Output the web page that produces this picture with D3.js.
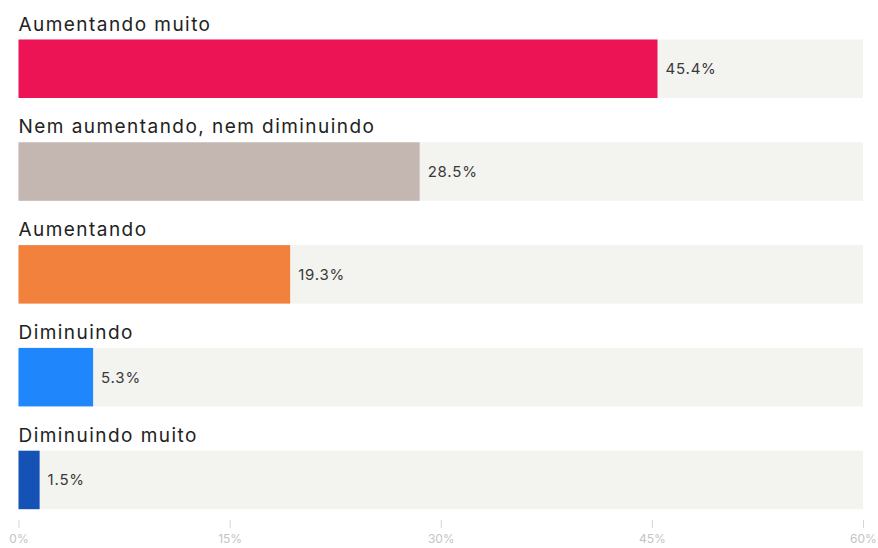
<!DOCTYPE html>
<html>
<head>
<meta charset="utf-8">
<script src="https://cdn.jsdelivr.net/npm/d3@7"></script>
<style>
  html, body { margin: 0; padding: 0; background: #fff; }
  svg { display: block; }
</style>
</head>
<body>
<svg id="chart" width="878" height="548"></svg>
<script>
// Answer categories, their shares (%) and bar colours
const categories = [
  "Aumentando muito",
  "Nem aumentando, nem diminuindo",
  "Aumentando",
  "Diminuindo",
  "Diminuindo muito"
];
const values = [45.4, 28.5, 19.3, 5.3, 1.5];
const colors = ["#EC1455", "#C4B6B0", "#F2813D", "#1F86FB", "#1452B5"];
const tickValues = [0, 15, 30, 45, 60];

const svg = d3.select("#chart");

const x = d3.scaleLinear().domain([0, 60]).range([18.5, 863]);
const y = d3.scaleBand()
  .domain(categories)
  .range([39.5, 509.2])
  .paddingInner(0.431)
  .paddingOuter(0);

const font = "Inter, 'Noto Sans', sans-serif";

const rows = svg.append("g").selectAll("g")
  .data(categories.map((c, i) => ({ c, v: values[i], col: colors[i] })))
  .join("g");

// background track
rows.append("rect")
  .attr("x", x(0))
  .attr("y", d => y(d.c))
  .attr("width", x(60) - x(0))
  .attr("height", y.bandwidth())
  .attr("fill", "#F3F3F0");

// value bar
rows.append("rect")
  .attr("x", x(0))
  .attr("y", d => y(d.c))
  .attr("width", d => x(d.v) - x(0))
  .attr("height", y.bandwidth())
  .attr("fill", d => d.col);

// category label above each bar
rows.append("text")
  .attr("x", x(0))
  .attr("y", d => y(d.c) - 9)
  .attr("font-family", font)
  .attr("font-size", 19)
  .attr("letter-spacing", 1.45)
  .attr("fill", "#222")
  .text(d => d.c);

// value label right of the bar
rows.append("text")
  .attr("x", d => x(d.v) + 8)
  .attr("y", d => y(d.c) + y.bandwidth() / 2)
  .attr("dy", "0.36em")
  .attr("font-family", font)
  .attr("font-size", 15)
  .attr("letter-spacing", 0.8)
  .attr("fill", "#3a3a3a")
  .text(d => d.v.toFixed(1) + "%");

// bottom axis
const axis = d3.axisBottom(x)
  .tickValues(tickValues)
  .tickFormat(d => d + "%")
  .tickSize(8)
  .tickPadding(6);

const ax = svg.append("g")
  .attr("transform", "translate(0,520)")
  .call(axis);
ax.select(".domain").remove();
ax.selectAll(".tick line").attr("stroke", "#d6d6d6");
ax.selectAll(".tick text")
  .attr("fill", "#c4c4c4")
  .attr("font-family", font)
  .attr("font-size", 12);
</script>
</body>
</html>
